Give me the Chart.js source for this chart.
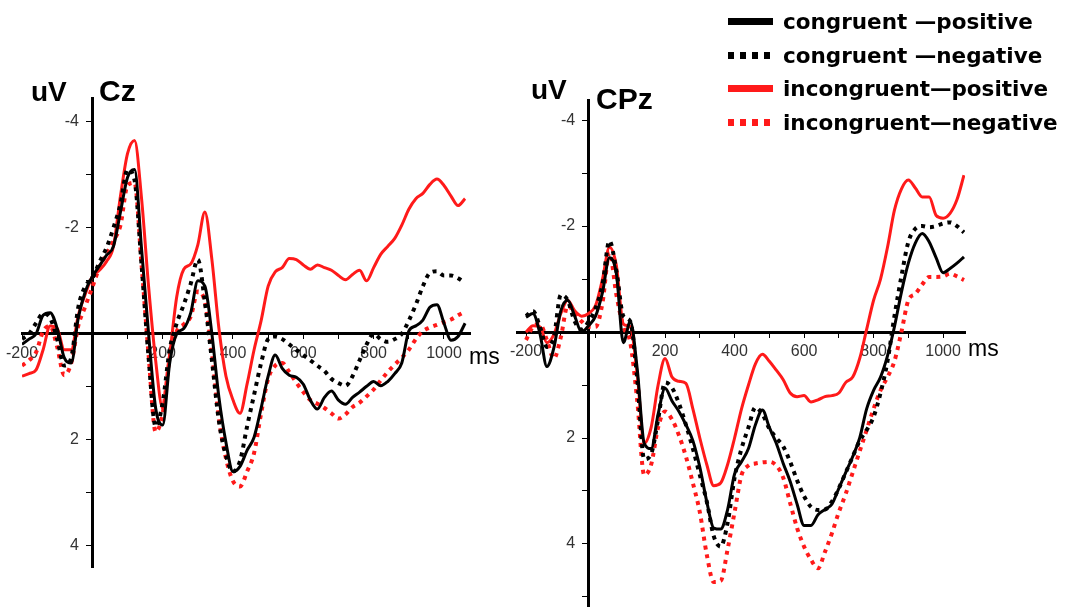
<!DOCTYPE html>
<html>
<head>
<meta charset="utf-8">
<script src="https://cdn.jsdelivr.net/npm/chart.js@4.4.1/dist/chart.umd.min.js"></script>
<style>
  body { margin: 0; background: #fff; width: 1081px; height: 607px; overflow: hidden; position: relative; font-family: "Liberation Sans", Arial, sans-serif; }
  canvas { position: absolute; top: 0; }
  .lbl { position: absolute; line-height: 1; color: #000; white-space: nowrap; }
  .b { font-weight: bold; }
  .legend { position: absolute; left: 728px; top: 5px; font-family: "DejaVu Sans", sans-serif; font-weight: bold; font-size: 21.5px; }
  .legend div { height: 33.5px; display: flex; align-items: center; }
  .legend i { display: inline-block; width: 45px; height: 7px; margin-right: 10px; }
</style>
</head>
<body>
<canvas id="cz" width="500" height="640" style="left:0"></canvas>
<canvas id="cpz" width="581" height="640" style="left:500px"></canvas>

<div class="lbl b" style="left:31px;top:78px;font-size:28px">uV</div>
<div class="lbl b" style="left:99px;top:76px;font-size:30px">Cz</div>
<div class="lbl" style="left:469px;top:345px;font-size:23px">ms</div>
<div class="lbl b" style="left:531px;top:76px;font-size:28px">uV</div>
<div class="lbl b" style="left:596px;top:84px;font-size:30px">CPz</div>
<div class="lbl" style="left:968px;top:337px;font-size:23px">ms</div>

<div class="legend" id="legend"></div>

<script>
// time axis (ms), shared by both electrodes
const ms = [-200, -180, -160, -140, -120, -100, -80, -60, -40, -20,
  0, 20, 40, 60, 80, 100, 120, 140, 160, 180,
  200, 220, 240, 260, 280, 300, 320, 340, 360, 380,
  400, 420, 440, 460, 480, 500, 520, 540, 560, 580,
  600, 620, 640, 660, 680, 700, 720, 740, 760, 780,
  800, 820, 840, 860, 880, 900, 920, 940, 960, 980,
  1000, 1020, 1040, 1060];

const xTickLabels = [-200, 200, 400, 600, 800, 1000];
const yTickLabels = [-4, -2, 2, 4];

const seriesNames = ['congruent \u2014positive', 'congruent \u2014negative', 'incongruent\u2014positive', 'incongruent\u2014negative'];

// Cz (uV)
const czCongPos = [0.2, 0.1, 0.0, -0.35, -0.4, -0.1, 0.45, 0.55, -0.3, -0.8,
  -1.08, -1.28, -1.48, -1.65, -2.3, -2.95, -3.1, -1.6, 0.0, 1.4,
  1.72, 0.55, 0.0, -0.1, -0.4, -1.0, -0.9, 0.0, 1.2, 2.05,
  2.6, 2.5, 2.2, 1.95, 1.4, 0.8, 0.4, 0.65, 0.78, 0.82,
  0.95, 1.25, 1.42, 1.2, 1.08, 1.25, 1.33, 1.2, 1.1, 0.99,
  0.9, 0.98, 0.9, 0.75, 0.55, -0.05, -0.15, -0.26, -0.5, -0.55,
  -0.2, 0.12, 0.05, -0.2];
const czCongNeg = [0.1, 0.0, -0.2, -0.38, -0.3, 0.1, 0.6, 0.45, -0.5, -0.9,
  -1.05, -1.35, -1.62, -2.0, -2.45, -3.1, -2.9, -1.3, 0.45, 1.75,
  1.3, 0.3, -0.2, -0.55, -0.95, -1.4, -0.6, 0.5, 1.65, 2.3,
  2.6, 2.4, 1.75, 1.15, 0.55, 0.1, 0.05, 0.1, 0.2, 0.3,
  0.4, 0.5, 0.6, 0.7, 0.85, 0.93, 0.98, 0.8, 0.5, 0.2,
  0.0, 0.1, 0.15, 0.1, 0.0, -0.25, -0.55, -0.9, -1.15, -1.18,
  -1.1, -1.1, -1.05, -0.96];
const czIncongPos = [0.8, 0.75, 0.68, 0.3, -0.15, -0.1, 0.3, 0.3, -0.35, -0.75,
  -1.08, -1.2, -1.36, -1.65, -2.6, -3.4, -3.65, -2.55, -0.89, 0.5,
  1.4, 0.4, -0.7, -1.22, -1.32, -1.68, -2.3, -1.4, -0.1, 0.8,
  1.25, 1.5, 0.95, 0.3, -0.25, -0.9, -1.17, -1.25, -1.42, -1.4,
  -1.3, -1.22, -1.3, -1.25, -1.2, -1.1, -1.02, -1.12, -1.2, -1.0,
  -1.25, -1.5, -1.65, -1.8, -2.05, -2.35, -2.55, -2.65, -2.82, -2.92,
  -2.8, -2.6, -2.42, -2.55];
const czIncongNeg = [0.6, 0.5, 0.35, -0.05, -0.15, 0.25, 0.78, 0.55, -0.15, -0.52,
  -0.88, -1.25, -1.5, -1.75, -2.05, -2.8, -2.85, -1.3, 0.4, 1.85,
  1.5, 0.45, -0.05, -0.18, -0.33, -0.8, -0.6, 0.36, 1.6, 2.35,
  2.78, 2.88, 2.6, 2.25, 1.5, 0.85, 0.6, 0.55, 0.72, 0.92,
  1.1, 1.25, 1.32, 1.4, 1.5, 1.6, 1.52, 1.38, 1.3, 1.18,
  1.05, 0.88, 0.72, 0.58, 0.45, 0.3, 0.1, -0.05, -0.12, -0.17,
  -0.22, -0.27, -0.35, -0.42];

// CPz (uV)
const cpzCongPos = [-0.28, -0.35, 0.03, 0.65, 0.3, -0.4, -0.6, -0.3, 0.0, -0.12,
  -0.3, -0.75, -1.4, -1.1, 0.2, -0.2, 0.7, 2.1, 2.2, 1.55,
  1.06, 1.3, 1.5, 1.75, 2.05, 2.55, 3.2, 3.7, 3.72, 3.35,
  2.68, 2.45, 2.2, 1.75, 1.47, 1.8, 2.1, 2.48, 2.82, 3.25,
  3.65, 3.65, 3.45, 3.35, 3.25, 2.95, 2.65, 2.35, 2.0, 1.45,
  1.1, 0.85, 0.45, -0.1, -0.75, -1.3, -1.68, -1.86, -1.7, -1.4,
  -1.12, -1.2, -1.3, -1.42];
const cpzCongNeg = [-0.3, -0.4, -0.1, 0.28, 0.1, -0.7, -0.6, -0.2, -0.05, -0.2,
  -0.45, -0.9, -1.72, -1.15, -0.3, -0.2, 0.9, 2.4, 2.3, 1.65,
  0.95, 1.05, 1.35, 1.75, 2.2, 2.7, 3.2, 3.85, 4.05, 3.6,
  2.75, 2.2, 1.8, 1.42, 1.55, 1.82, 2.0, 2.16, 2.45, 2.8,
  3.1, 3.3, 3.36, 3.35, 3.2, 2.95, 2.65, 2.35, 2.05, 1.85,
  1.6, 1.15, 0.55, -0.3, -1.05, -1.7, -1.95, -2.0, -1.98, -2.0,
  -2.05, -2.07, -2.0, -1.88];
const cpzIncongPos = [0.0, -0.12, -0.1, 0.2, 0.05, -0.35, -0.6, -0.4, -0.3, -0.35,
  -0.5, -1.0, -1.6, -1.25, -0.15, -0.1, 0.8, 2.1, 1.8, 1.0,
  0.5, 0.85, 0.93, 0.97, 1.45, 2.0, 2.5, 2.9, 2.85, 2.5,
  2.0, 1.45, 1.0, 0.6, 0.42, 0.55, 0.72, 0.9, 1.15, 1.22,
  1.2, 1.32, 1.28, 1.22, 1.2, 1.15, 0.95, 0.85, 0.5, -0.05,
  -0.6, -1.0, -1.6, -2.3, -2.7, -2.87, -2.72, -2.55, -2.55, -2.2,
  -2.15, -2.24, -2.5, -2.96];
const cpzIncongNeg = [0.15, -0.1, -0.15, 0.15, 0.5, 0.1, -0.5, -0.35, -0.2, -0.1,
  -0.1, -0.55, -1.5, -0.7, -0.1, 0.2, 1.3, 2.7, 2.5, 1.8,
  1.5, 1.65, 1.95, 2.35, 2.85, 3.4, 4.2, 4.72, 4.7, 4.1,
  3.4, 2.7, 2.52, 2.48, 2.46, 2.45, 2.52, 2.75, 3.23, 3.7,
  4.05, 4.3, 4.46, 4.15, 3.8, 3.4, 3.05, 2.65, 2.25, 1.85,
  1.45, 1.1, 0.85, 0.55, 0.0, -0.6, -0.72, -0.9, -1.04, -1.04,
  -1.05, -1.1, -1.05, -0.98];

const RED = '#ff1a1a';
const styles = [
  { color: '#000', dash: [] },
  { color: '#000', dash: [4, 5] },
  { color: RED, dash: [] },
  { color: RED, dash: [4, 5] }
];

const tickFont = { family: '"Liberation Sans", Arial', size: 16 };

function makePanel(id, series, opt) {
  const datasets = series.map((vals, i) => ({
    label: seriesNames[i],
    data: vals.map((v, k) => ({ x: ms[k], y: v })),
    borderColor: styles[i].color,
    borderDash: styles[i].dash,
    borderWidth: styles[i].dash.length ? 4 : 3,
    pointRadius: 0,
    cubicInterpolationMode: 'monotone',
    fill: false
  }));

  new Chart(document.getElementById(id), {
    type: 'line',
    data: { datasets },
    options: {
      responsive: false,
      animation: false,
      events: [],
      layout: { padding: opt.padding },
      plugins: { legend: { display: false }, tooltip: { enabled: false } },
      scales: {
        x: {
          type: 'linear',
          min: opt.xMin, max: opt.xMax,
          position: { y: 0 },
          afterFit: s => { s.height = 0; },
          border: { display: true, color: '#000', width: 3 },
          grid: { drawOnChartArea: false, drawTicks: true, tickLength: 4, color: '#000', lineWidth: 1 },
          ticks: {
            stepSize: 100, includeBounds: false, autoSkip: false, maxRotation: 0,
            padding: 6, color: '#333', font: tickFont,
            callback: v => xTickLabels.includes(v) ? String(v) : ''
          }
        },
        y: {
          type: 'linear',
          reverse: true,
          min: opt.yMin, max: opt.yMax,
          position: { x: opt.yAt },
          afterFit: s => { s.width = 0; },
          border: { display: true, color: '#000', width: 3 },
          grid: { drawOnChartArea: false, drawTicks: true, tickLength: 5, color: '#000', lineWidth: 1 },
          ticks: {
            stepSize: 1, includeBounds: false, autoSkip: false,
            color: '#333', font: tickFont,
            // labels are right-aligned on the axis line, trailing spaces keep them off the tick marks
            callback: v => yTickLabels.includes(v) ? v + '   ' : ''
          }
        }
      }
    }
  });
}

makePanel('cz', [czCongPos, czCongNeg, czIncongPos, czIncongNeg], {
  padding: { left: 22, right: 30, top: 98, bottom: 73 },
  xMin: -200, xMax: 1074, yMin: -4.45, yMax: 4.4, yAt: 0
});

// in the source figure the CPz vertical axis sits slightly left of 0 ms
makePanel('cpz', [cpzCongPos, cpzCongNeg, cpzIncongPos, cpzIncongNeg], {
  padding: { left: 17, right: 116, top: 100, bottom: 33 },
  xMin: -226, xMax: 1063, yMin: -4.38, yMax: 5.19, yAt: -20
});

// legend
const legend = document.getElementById('legend');
seriesNames.forEach((name, i) => {
  const row = document.createElement('div');
  const sw = document.createElement('i');
  sw.style.background = styles[i].dash.length
    ? `repeating-linear-gradient(90deg, ${styles[i].color} 0 6px, transparent 6px 12px)`
    : styles[i].color;
  row.appendChild(sw);
  row.appendChild(document.createTextNode(name));
  legend.appendChild(row);
});
</script>
</body>
</html>
